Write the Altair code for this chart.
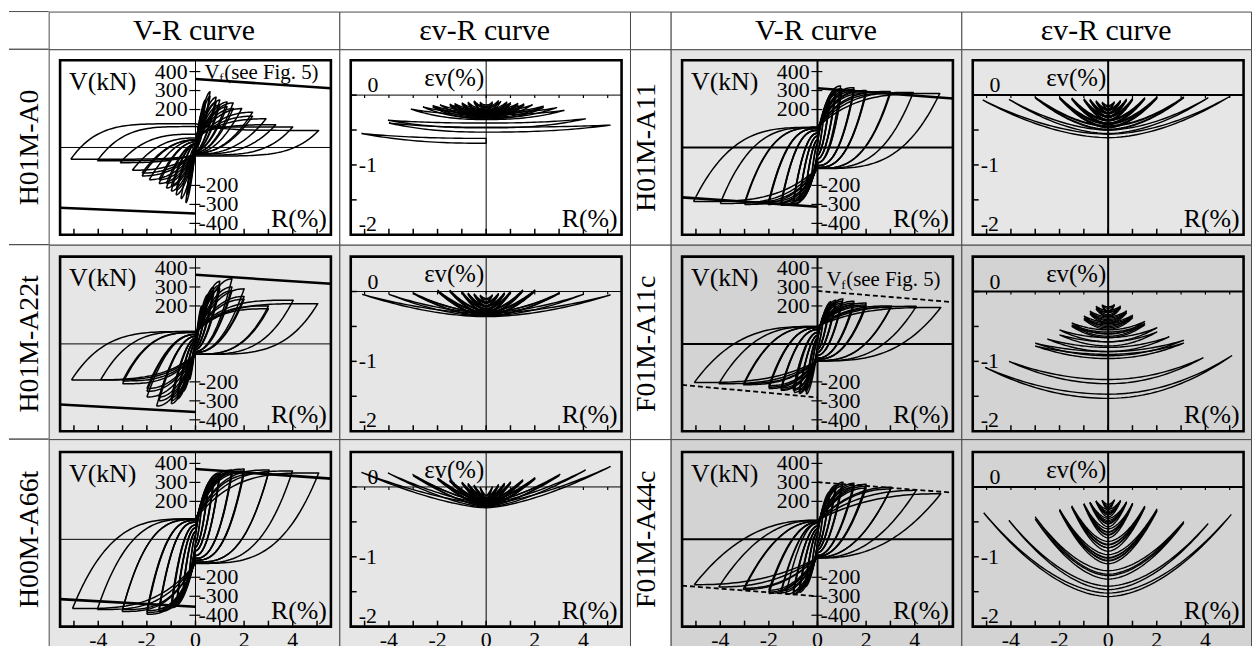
import altair as alt
import numpy as np
import pandas as pd

# ------------------------------------------------------------------ texts / ticks
HEADERS = ["", "V-R curve", "\u03b5v-R curve", "", "V-R curve", "\u03b5v-R curve"]
SPECIMENS = ["H01M-A0", "H01M-A11", "H01M-A22t", "F01M-A11c", "H00M-A66t", "F01M-A44c"]
R_TICK_LABELS = [-4, -2, 0, 2, 4]
R_TICK_MARKS = [-5, -4, -3, -2, -1, 0, 1, 2, 3, 4, 5]
V_LABELS_POS = [400, 300, 200]
V_LABELS_NEG = [-200, -300, -400]
EV_LABELS = [0, -1, -2]
EV_TICK_MARKS = [0, -0.5, -1, -1.5, -2]

# ------------------------------------------------------------------ V-R cycles
# RP/RN: drift amplitude (+/-), VP/VN: shear at the peaks, P/Q: shear where loading / unloading
# branch crosses R=0 (pinching), M: loop fullness
A0_RP = [0.25, 0.25, 0.4, 0.4, 0.6, 0.6, 0.85, 0.85, 1.0, 1.0, 1.3, 1.3, 1.55, 1.55, 1.9, 2.35, 2.35, 2.9, 3.3, 4.0, 5.07]
A0_RN = [0.25, 0.25, 0.35, 0.35, 0.4, 0.6, 0.8, 0.8, 1.0, 1.0, 1.2, 1.2, 1.5, 1.5, 1.9, 2.2, 2.2, 2.6, 3.1, 4.04, 5.13]
A0_VP = [180, 160, 250, 225, 294, 270, 265, 240, 250, 225, 240, 215, 235, 205, 205, 186, 165, 151, 120, 108, 90]
A0_VN = [-170, -150, -250, -225, -292, -270, -250, -225, -230, -205, -214, -190, -190, -170, -170, -150, -135, -120, -80, -70, -62]
A0_P = [0, 0, 10, 10, 10, 10, 20, 20, 20, 20, 20, 20, 30, 30, 40, 40, 40, 50, 70, 110, 125]
A0_Q = [0, 0, -10, -10, -10, -10, -20, -20, -20, -20, -20, -20, -25, -25, -30, -30, -30, -35, -35, -40, -45]
A0_M = [1.5, 1.5, 1.5, 1.5, 1.6, 1.6, 1.7, 1.7, 1.8, 1.8, 1.8, 1.8, 2.0, 2.0, 2.0, 2.2, 2.2, 2.5, 3.0, 4.0, 5.0]

A22_RP = [0.25, 0.25, 0.5, 0.5, 0.5, 0.75, 0.75, 0.75, 1.0, 1.0, 1.0, 1.5, 1.5, 1.5, 2.0, 2.0, 2.0, 3.0, 3.0, 4.02, 5.03]
A22_RN = [0.25, 0.25, 0.5, 0.5, 0.5, 0.75, 0.75, 0.75, 1.0, 1.0, 1.0, 1.6, 1.5, 1.5, 2.0, 2.0, 2.0, 3.0, 3.0, 3.9, 5.1]
A22_VP = [200, 180, 260, 240, 225, 300, 280, 265, 330, 310, 290, 343, 300, 280, 290, 250, 235, 200, 185, 230, 212]
A22_VN = [-190, -170, -250, -240, -225, -290, -280, -265, -315, -300, -285, -328, -300, -280, -280, -250, -235, -210, -195, -190, -190]
A22_P = [0, 0, 10, 10, 10, 20, 20, 20, 30, 30, 30, 40, 40, 40, 50, 50, 50, 60, 60, 65, 65]
A22_Q = [0, 0, -10, -10, -10, -20, -20, -20, -30, -30, -30, -40, -40, -40, -45, -45, -45, -55, -55, -55, -55]
A22_M = [1.5, 1.5, 1.6, 1.6, 1.6, 1.7, 1.7, 1.7, 1.8, 1.8, 1.8, 2.0, 2.0, 2.0, 2.2, 2.2, 2.2, 3.0, 3.0, 3.5, 4.0]

A66_RP = [0.25, 0.25, 0.5, 0.5, 0.5, 0.75, 0.75, 0.75, 1.0, 1.0, 1.0, 1.5, 1.5, 1.5, 2.0, 2.0, 2.0, 3.03, 3.0, 3.99, 5.07]
A66_RN = [0.25, 0.25, 0.5, 0.5, 0.5, 0.75, 0.75, 0.75, 0.98, 1.0, 1.0, 1.5, 1.5, 1.5, 2.0, 2.0, 2.0, 3.02, 3.0, 4.04, 5.06]
A66_VP = [180, 165, 260, 250, 240, 320, 310, 300, 350, 345, 335, 365, 355, 345, 370, 360, 350, 365, 350, 360, 350]
A66_VN = [-180, -165, -260, -250, -240, -320, -310, -300, -360, -355, -345, -380, -375, -365, -395, -385, -375, -380, -370, -370, -365]
A66_P = [20, 20, 40, 40, 40, 60, 60, 60, 75, 75, 75, 90, 90, 90, 100, 100, 100, 105, 105, 108, 108]
A66_Q = [-20, -20, -40, -40, -40, -60, -60, -60, -85, -85, -85, -100, -100, -100, -110, -110, -110, -120, -120, -125, -127]
A66_M = [1.6, 1.6, 1.8, 1.8, 1.8, 2.0, 2.0, 2.0, 2.2, 2.2, 2.2, 2.5, 2.5, 2.5, 2.7, 2.7, 2.7, 3.0, 3.0, 3.2, 3.4]

A11_RP = [0.25, 0.25, 0.5, 0.5, 0.5, 0.75, 0.75, 0.75, 0.95, 1.0, 1.0, 1.5, 1.5, 1.5, 2.0, 2.0, 2.0, 2.99, 3.0, 3.94, 5.03]
A11_RN = [0.25, 0.25, 0.5, 0.5, 0.5, 0.75, 0.75, 0.75, 1.0, 1.0, 1.0, 1.5, 1.5, 1.5, 2.04, 2.0, 2.0, 3.0, 3.0, 4.0, 5.1]
A11_VP = [170, 155, 250, 240, 230, 300, 290, 280, 324, 310, 300, 315, 305, 295, 300, 295, 285, 295, 285, 290, 285]
A11_VN = [-170, -155, -240, -235, -225, -280, -275, -265, -300, -295, -285, -305, -300, -290, -300, -295, -285, -300, -290, -295, -285]
A11_P = [20, 20, 40, 40, 40, 60, 60, 60, 75, 75, 75, 90, 90, 90, 100, 100, 100, 105, 105, 106, 106]
A11_Q = [-20, -20, -40, -40, -40, -60, -60, -60, -80, -80, -80, -95, -95, -95, -105, -105, -105, -110, -110, -110, -111]
A11_M = [1.6, 1.6, 1.8, 1.8, 1.8, 2.0, 2.0, 2.0, 2.2, 2.2, 2.2, 2.5, 2.5, 2.5, 2.7, 2.7, 2.7, 3.0, 3.0, 3.2, 3.4]

A11C_RP = [0.25, 0.25, 0.55, 0.5, 0.5, 0.75, 0.75, 0.75, 1.05, 1.0, 1.0, 1.5, 1.5, 1.5, 2.0, 2.0, 2.0, 3.05, 3.0, 4.06, 5.07]
A11C_RN = [0.25, 0.25, 0.46, 0.5, 0.5, 0.75, 0.75, 0.75, 0.96, 1.0, 1.0, 1.5, 1.5, 1.5, 2.0, 2.0, 2.0, 3.06, 3.0, 4.06, 5.07]
A11C_VP = [150, 135, 223, 210, 200, 230, 220, 210, 237, 225, 215, 225, 215, 205, 215, 205, 198, 200, 192, 198, 192]
A11C_VN = [-150, -135, -265, -250, -240, -262, -255, -245, -256, -245, -238, -245, -240, -232, -235, -228, -220, -215, -208, -210, -204]
A11C_P = [15, 15, 30, 30, 30, 45, 45, 45, 60, 60, 60, 75, 75, 75, 85, 85, 85, 90, 90, 92, 92]
A11C_Q = [-15, -15, -30, -30, -30, -45, -45, -45, -60, -60, -60, -75, -75, -75, -80, -80, -80, -88, -88, -90, -90]
A11C_M = [1.6, 1.6, 1.7, 1.7, 1.7, 1.8, 1.8, 1.8, 2.0, 2.0, 2.0, 2.2, 2.2, 2.2, 2.4, 2.4, 2.4, 2.7, 2.7, 2.9, 3.0]

A44C_RP = [0.25, 0.25, 0.5, 0.5, 0.5, 0.75, 0.75, 0.75, 1.05, 1.0, 1.0, 1.5, 1.5, 1.5, 2.0, 2.0, 2.0, 3.05, 3.0, 4.06, 5.07]
A44C_RN = [0.25, 0.25, 0.5, 0.5, 0.5, 0.75, 0.75, 0.75, 1.0, 1.0, 1.0, 1.3, 1.5, 1.5, 2.0, 2.0, 2.0, 3.06, 3.0, 4.06, 5.07]
A44C_VP = [170, 155, 250, 240, 230, 285, 275, 265, 301, 290, 280, 295, 285, 275, 290, 280, 270, 275, 265, 258, 240]
A44C_VN = [-170, -155, -250, -240, -230, -280, -270, -260, -291, -285, -275, -290, -282, -272, -285, -278, -268, -265, -258, -251, -239]
A44C_P = [20, 20, 40, 40, 40, 55, 55, 55, 70, 70, 70, 85, 85, 85, 90, 90, 90, 95, 95, 100, 101]
A44C_Q = [-20, -20, -40, -40, -40, -55, -55, -55, -70, -70, -70, -85, -85, -85, -90, -90, -90, -95, -95, -98, -99]
A44C_M = [1.6, 1.6, 1.7, 1.7, 1.7, 1.8, 1.8, 1.8, 1.9, 1.9, 1.9, 2.0, 2.0, 2.0, 2.1, 2.1, 2.1, 2.2, 2.2, 2.3, 2.4]

# Vf lines: [upper at R=0, upper at right edge, lower at left edge, lower at R=0]
VF_A0 = [361, 312, -318, -348]
VF_A11 = [312, 258, -263, -312]
VF_A22 = [364, 317, -319, -359]
VF_A11C = [279, 220, -216, -282]
VF_A66 = [371, 320, -315, -355]
VF_A44C = [301, 246, -244, -300]

# ------------------------------------------------------------------ εv-R cycles
# RN/RP: drift amplitude, EL/ER: εv at the negative / positive peak, E0: εv at R=0
A0E_RN = [0.25, 0.25, 0.5, 0.5, 0.5, 0.75, 0.75, 1.0, 1.0, 1.3, 1.3, 1.5, 1.5, 1.9, 2.2, 2.2, 2.6, 3.1, 4.04, 4.0, 5.13]
A0E_RP = [0.25, 0.25, 0.5, 0.5, 0.6, 0.85, 0.85, 1.0, 1.0, 1.3, 1.3, 1.55, 1.55, 1.9, 2.35, 2.35, 2.9, 3.2, 4.08, 5.1, 0.0]
A0E_EL = [-0.10, -0.12, -0.08, -0.10, -0.09, -0.10, -0.12, -0.11, -0.13, -0.12, -0.14, -0.13, -0.15, -0.14, -0.15, -0.17, -0.17, -0.20, -0.36, -0.40, -0.55]
A0E_ER = [-0.10, -0.12, -0.08, -0.10, -0.09, -0.10, -0.12, -0.11, -0.13, -0.12, -0.14, -0.13, -0.15, -0.14, -0.16, -0.18, -0.18, -0.22, -0.34, -0.43, -0.62]
A0E_E0 = [-0.14, -0.16, -0.16, -0.18, -0.18, -0.20, -0.22, -0.21, -0.23, -0.22, -0.24, -0.23, -0.25, -0.24, -0.25, -0.27, -0.26, -0.28, -0.40, -0.46, -0.62]

A11E_RN = [0.25, 0.25, 0.5, 0.5, 0.5, 0.75, 0.75, 0.75, 1.0, 1.0, 1.0, 1.5, 1.5, 1.5, 2.0, 2.0, 2.0, 3.0, 3.0, 4.08, 5.16]
A11E_RP = [0.25, 0.25, 0.5, 0.5, 0.5, 0.75, 0.75, 0.75, 1.0, 1.0, 1.0, 1.5, 1.5, 1.5, 2.0, 2.0, 2.0, 3.1, 3.1, 4.1, 5.0]
A11E_EL = [-0.10, -0.11, -0.08, -0.09, -0.10, -0.06, -0.07, -0.08, -0.05, -0.06, -0.07, -0.04, -0.05, -0.06, -0.03, -0.04, -0.05, -0.03, -0.04, -0.06, -0.07]
A11E_ER = [-0.10, -0.11, -0.08, -0.09, -0.10, -0.06, -0.07, -0.08, -0.05, -0.06, -0.07, -0.04, -0.05, -0.06, -0.03, -0.04, -0.05, -0.03, -0.04, -0.04, -0.02]
A11E_E0 = [-0.15, -0.17, -0.20, -0.21, -0.22, -0.25, -0.26, -0.27, -0.30, -0.31, -0.32, -0.35, -0.36, -0.37, -0.40, -0.41, -0.42, -0.44, -0.45, -0.50, -0.56]

A22E_RN = [0.25, 0.25, 0.5, 0.5, 0.5, 0.75, 0.75, 0.75, 1.0, 1.0, 1.0, 1.5, 1.5, 1.5, 2.0, 2.0, 2.0, 3.0, 3.0, 4.0, 5.1]
A22E_RP = [0.25, 0.25, 0.5, 0.5, 0.5, 0.75, 0.75, 0.75, 1.0, 1.0, 1.0, 1.5, 1.5, 1.5, 2.0, 2.0, 2.0, 3.0, 3.0, 4.0, 5.1]
A22E_EL = [-0.05, -0.06, -0.03, -0.04, -0.05, -0.02, -0.03, -0.04, 0.0, -0.01, -0.02, 0.02, 0.01, 0.0, 0.02, 0.01, 0.0, -0.02, -0.03, -0.04, -0.04]
A22E_ER = [-0.05, -0.06, -0.03, -0.04, -0.05, -0.02, -0.03, -0.04, 0.0, -0.01, -0.02, 0.02, 0.01, 0.0, 0.02, 0.01, 0.0, -0.02, -0.03, -0.04, -0.05]
A22E_E0 = [-0.10, -0.12, -0.15, -0.16, -0.17, -0.20, -0.21, -0.22, -0.24, -0.25, -0.25, -0.27, -0.28, -0.28, -0.29, -0.30, -0.30, -0.30, -0.30, -0.30, -0.31]

A11CE_RN = [0.25, 0.25, 0.5, 0.5, 0.5, 0.75, 0.75, 0.75, 1.0, 1.0, 1.0, 1.5, 1.5, 1.5, 2.0, 2.0, 2.5, 3.0, 3.0, 4.08, 5.05]
A11CE_RP = [0.25, 0.25, 0.5, 0.5, 0.5, 0.75, 0.75, 0.75, 1.0, 1.0, 1.0, 1.5, 1.5, 1.5, 2.0, 2.0, 2.5, 3.1, 3.1, 3.9, 5.08]
A11CE_EL = [-0.19, -0.20, -0.21, -0.23, -0.25, -0.28, -0.30, -0.32, -0.35, -0.38, -0.40, -0.45, -0.48, -0.50, -0.55, -0.62, -0.68, -0.74, -0.78, -1.00, -1.09]
A11CE_ER = [-0.19, -0.20, -0.21, -0.22, -0.24, -0.28, -0.29, -0.31, -0.34, -0.36, -0.38, -0.43, -0.46, -0.48, -0.52, -0.58, -0.65, -0.70, -0.74, -0.95, -0.92]
A11CE_E0 = [-0.22, -0.24, -0.27, -0.29, -0.30, -0.36, -0.38, -0.40, -0.44, -0.46, -0.48, -0.55, -0.58, -0.60, -0.66, -0.72, -0.80, -0.86, -0.90, -1.26, -1.47]

A66E_RN = [0.25, 0.25, 0.5, 0.5, 0.5, 0.75, 0.75, 0.75, 1.0, 1.0, 1.0, 1.5, 1.5, 1.5, 2.0, 2.0, 2.0, 3.03, 3.0, 4.04, 5.13]
A66E_RP = [0.25, 0.25, 0.5, 0.5, 0.5, 0.75, 0.75, 0.75, 1.0, 1.0, 1.0, 1.5, 1.5, 1.5, 2.0, 2.0, 2.0, 3.03, 3.0, 4.08, 5.10]
A66E_EL = [0.0, -0.01, 0.03, 0.02, 0.01, 0.05, 0.04, 0.03, 0.07, 0.06, 0.05, 0.10, 0.09, 0.08, 0.13, 0.12, 0.11, 0.18, 0.16, 0.20, 0.21]
A66E_ER = [0.0, -0.01, 0.03, 0.02, 0.01, 0.05, 0.04, 0.03, 0.07, 0.06, 0.05, 0.10, 0.09, 0.08, 0.13, 0.12, 0.11, 0.18, 0.16, 0.24, 0.29]
A66E_E0 = [-0.12, -0.13, -0.15, -0.16, -0.16, -0.17, -0.18, -0.18, -0.19, -0.20, -0.20, -0.20, -0.21, -0.21, -0.21, -0.22, -0.22, -0.22, -0.22, -0.23, -0.24]

A44CE_RN = [0.25, 0.25, 0.5, 0.5, 0.5, 0.75, 0.75, 0.75, 1.0, 1.0, 1.0, 1.5, 1.5, 1.5, 2.0, 2.0, 2.0, 3.0, 3.0, 4.08, 5.12]
A44CE_RP = [0.25, 0.25, 0.5, 0.5, 0.5, 0.75, 0.75, 0.75, 1.0, 1.0, 1.0, 1.5, 1.5, 1.5, 2.0, 2.0, 2.0, 3.1, 3.1, 4.1, 5.05]
A44CE_EL = [-0.19, -0.19, -0.20, -0.20, -0.21, -0.22, -0.22, -0.23, -0.24, -0.24, -0.25, -0.27, -0.28, -0.29, -0.32, -0.33, -0.34, -0.43, -0.46, -0.48, -0.37]
A44CE_ER = [-0.19, -0.19, -0.20, -0.20, -0.21, -0.22, -0.22, -0.23, -0.24, -0.24, -0.25, -0.28, -0.29, -0.30, -0.32, -0.34, -0.35, -0.50, -0.52, -0.53, -0.40]
A44CE_E0 = [-0.25, -0.28, -0.32, -0.35, -0.38, -0.45, -0.48, -0.52, -0.60, -0.64, -0.68, -0.78, -0.82, -0.87, -0.97, -1.01, -1.05, -1.20, -1.27, -1.42, -1.52]

# curvature of the εv arcs and thickness of their lenses, per specimen
EV_SHAPE = [2.4, 1.8, 1.8, 2.0, 1.5, 1.8]
EV_LENS = [0.07, 0.05, 0.05, 0.06, 0.06, 0.05]

# ------------------------------------------------------------------ tables for the library
def vr_table(RP, RN, VP, VN, P, Q, M, n=40):
    t = np.linspace(0.0, 1.0, n)
    parts = []
    for c in range(len(RP)):
        rp, rn, vp, vn, p, q, m = RP[c], RN[c], VP[c], VN[c], P[c], Q[c], M[c]
        R = np.concatenate([-rn * (1 - t), rp * t[1:], rp * (1 - t[1:]), -rn * t[1:]])
        V = np.concatenate([
            vn + (p - vn) * (1 - (1 - t) ** m),
            p + (vp - p) * (1 - (1 - t[1:]) ** m),
            vp - (vp - q) * (1 - (1 - t[1:]) ** m),
            q + (vn - q) * (1 - (1 - t[1:]) ** m),
        ])
        parts.append(pd.DataFrame({"c": c, "i": np.arange(len(R)), "x": R.round(3), "y": V.round(1)}))
    return pd.concat(parts, ignore_index=True)


def ev_table(RN, RP, EL, ER, E0, k, w, n=30):
    t = np.linspace(0.0, 1.0, n)
    parts = []
    for c in range(len(RN)):
        rn, rp, el, er, e0 = RN[c], RP[c], EL[c], ER[c], E0[c]
        Rs = [-rn * (1 - t)]
        Es = [e0 + (el - e0) * (1 - t) ** k]
        if rp > 0:
            Rs += [rp * t[1:], rp * (1 - t[1:])]
            Es += [e0 + (er - e0) * t[1:] ** k, (e0 - w) + (er - e0 + w) * (1 - t[1:]) ** k]
        else:
            Rs += [np.zeros(1)]
            Es += [np.array([e0 - w])]
        Rs += [-rn * t[1:]]
        Es += [(e0 - w) + (el - e0 + w) * t[1:] ** k]
        R = np.concatenate(Rs)
        E = np.concatenate(Es)
        parts.append(pd.DataFrame({"c": c, "i": np.arange(len(R)), "x": R.round(3), "y": E.round(4)}))
    return pd.concat(parts, ignore_index=True)


VR_DATA = [
    vr_table(A0_RP, A0_RN, A0_VP, A0_VN, A0_P, A0_Q, A0_M),
    vr_table(A11_RP, A11_RN, A11_VP, A11_VN, A11_P, A11_Q, A11_M),
    vr_table(A22_RP, A22_RN, A22_VP, A22_VN, A22_P, A22_Q, A22_M),
    vr_table(A11C_RP, A11C_RN, A11C_VP, A11C_VN, A11C_P, A11C_Q, A11C_M),
    vr_table(A66_RP, A66_RN, A66_VP, A66_VN, A66_P, A66_Q, A66_M),
    vr_table(A44C_RP, A44C_RN, A44C_VP, A44C_VN, A44C_P, A44C_Q, A44C_M),
]
EV_DATA = [
    ev_table(A0E_RN, A0E_RP, A0E_EL, A0E_ER, A0E_E0, EV_SHAPE[0], EV_LENS[0]),
    ev_table(A11E_RN, A11E_RP, A11E_EL, A11E_ER, A11E_E0, EV_SHAPE[1], EV_LENS[1]),
    ev_table(A22E_RN, A22E_RP, A22E_EL, A22E_ER, A22E_E0, EV_SHAPE[2], EV_LENS[2]),
    ev_table(A11CE_RN, A11CE_RP, A11CE_EL, A11CE_ER, A11CE_E0, EV_SHAPE[3], EV_LENS[3]),
    ev_table(A66E_RN, A66E_RP, A66E_EL, A66E_ER, A66E_E0, EV_SHAPE[4], EV_LENS[4]),
    ev_table(A44CE_RN, A44CE_RP, A44CE_EL, A44CE_ER, A44CE_E0, EV_SHAPE[5], EV_LENS[5]),
]
VF = [VF_A0, VF_A11, VF_A22, VF_A11C, VF_A66, VF_A44C]
VF_DASHED = [False, False, False, True, False, True]
VF_NOTE = [True, False, False, True, False, False]

# ------------------------------------------------------------------ layout / style
FONT = "'Liberation Serif', 'Times New Roman', Times, 'DejaVu Serif', serif"
GRID = "#4a4a4a"
BG = ["#ffffff", "#e6e6e6", "#e6e6e6", "#d3d3d3", "#e6e6e6", "#d3d3d3"]
ZERO_W = [1, 2, 1, 2, 1, 2]
NOTE_DY = [19, 19, 19, 30, 19, 19]
COL_W = [40, 293, 293, 41, 293, 292]
ROW_H = [38, 197, 196, 210]
FRAME_TOP = [11, 12, 13]
FRAME_H = 176
FX0, FX1 = 11.5, 284.5
XMIN, XMAX = -5.57, 5.57
VMIN, VMAX = -460, 460
EMIN, EMAX = -2.0, 0.5
TICK_PX = 6
LOOP_W = {"vr": 1.5, "ev": 1.4}


def txt(df, X, Y, **kw):
    return alt.Chart(df).mark_text(font=FONT, color="black", **kw).encode(x=X, y=Y, text="t:N")


def rules(df, X, Y, **kw):
    return alt.Chart(df).mark_rule(color="black", **kw).encode(x=X, x2=alt.X2("x2"), y=Y, y2=alt.Y2("y2"))


def panel(k, kind, W, H, ftop, bottom):
    xs = alt.Scale(domain=[XMIN, XMAX], range=[FX0, FX1], nice=False, zero=False)
    if kind == "vr":
        lo, hi = VMIN, VMAX
    else:
        lo, hi = EMIN, EMAX
    ys = alt.Scale(domain=[lo, hi], range=[ftop + FRAME_H, ftop], nice=False, zero=False)
    X = alt.X("x:Q", scale=xs, axis=None)
    Y = alt.Y("y:Q", scale=ys, axis=None)
    per_px_y = (hi - lo) / FRAME_H
    per_px_x = (XMAX - XMIN) / (FX1 - FX0)
    L = []
    zl = pd.DataFrame({"x": [XMIN, 0], "x2": [XMAX, 0], "y": [0, lo], "y2": [0, hi]})
    L.append(rules(zl, X, Y, strokeWidth=ZERO_W[k]))
    data = VR_DATA[k] if kind == "vr" else EV_DATA[k]
    L.append(alt.Chart(data).mark_line(color="black", strokeWidth=LOOP_W[kind], strokeJoin="round").encode(
        x=X, y=Y, detail="c:N", order="i:Q"))
    bt = pd.DataFrame({"x": R_TICK_MARKS, "x2": R_TICK_MARKS,
                       "y": [lo] * len(R_TICK_MARKS), "y2": [lo + TICK_PX * per_px_y] * len(R_TICK_MARKS)})
    L.append(rules(bt, X, Y, strokeWidth=1.5))
    if kind == "vr":
        vf = VF[k]
        vdf = pd.DataFrame({"x": [0, XMIN], "x2": [XMAX, 0], "y": [vf[0], vf[2]], "y2": [vf[1], vf[3]]})
        if VF_DASHED[k]:
            L.append(rules(vdf, X, Y, strokeWidth=1.8, strokeDash=[5, 3]))
        else:
            L.append(rules(vdf, X, Y, strokeWidth=2.6))
        vt = V_LABELS_POS + V_LABELS_NEG
        tdf = pd.DataFrame({"x": [-0.25] * len(vt), "x2": [0.2] * len(vt), "y": vt, "y2": vt})
        L.append(rules(tdf, X, Y, strokeWidth=1.2))
        L.append(txt(pd.DataFrame({"x": [0] * 3, "y": V_LABELS_POS, "t": [str(v) for v in V_LABELS_POS]}),
                     X, Y, fontSize=22, align="right", baseline="middle", dx=-8))
        L.append(txt(pd.DataFrame({"x": [0] * 3, "y": V_LABELS_NEG, "t": [str(v) for v in V_LABELS_NEG]}),
                     X, Y, fontSize=22, align="left", baseline="middle", dx=3))
        L.append(txt(pd.DataFrame({"x": [XMIN], "y": [VMAX], "t": ["V(kN)"]}),
                     X, Y, fontSize=26, align="left", baseline="alphabetic", dx=9, dy=30))
        if VF_NOTE[k]:
            dy = NOTE_DY[k]
            L.append(txt(pd.DataFrame({"x": [0], "y": [VMAX], "t": ["V"]}),
                         X, Y, fontSize=21, align="left", baseline="alphabetic", dx=9, dy=dy))
            L.append(txt(pd.DataFrame({"x": [0], "y": [VMAX], "t": ["f"]}),
                         X, Y, fontSize=13, align="left", baseline="alphabetic", dx=24, dy=dy + 3))
            L.append(txt(pd.DataFrame({"x": [0], "y": [VMAX], "t": ["(see Fig. 5)"]}),
                         X, Y, fontSize=21, align="left", baseline="alphabetic", dx=29, dy=dy))
    else:
        lt = pd.DataFrame({"x": [XMIN] * len(EV_TICK_MARKS), "x2": [XMIN + TICK_PX * per_px_x] * len(EV_TICK_MARKS),
                           "y": EV_TICK_MARKS, "y2": EV_TICK_MARKS})
        L.append(rules(lt, X, Y, strokeWidth=1.5))
        zt = pd.DataFrame({"x": R_TICK_MARKS, "x2": R_TICK_MARKS,
                           "y": [0] * len(R_TICK_MARKS), "y2": [-3 * per_px_y] * len(R_TICK_MARKS)})
        L.append(rules(zt, X, Y, strokeWidth=1.2))
        L.append(txt(pd.DataFrame({"x": [XMIN], "y": [EV_LABELS[0]], "t": [str(EV_LABELS[0])]}),
                     X, Y, fontSize=22, align="left", baseline="alphabetic", dx=17, dy=-3))
        L.append(txt(pd.DataFrame({"x": [XMIN], "y": [EV_LABELS[1]], "t": [str(EV_LABELS[1])]}),
                     X, Y, fontSize=22, align="left", baseline="middle", dx=8))
        L.append(txt(pd.DataFrame({"x": [XMIN], "y": [EV_LABELS[2]], "t": [str(EV_LABELS[2])]}),
                     X, Y, fontSize=22, align="left", baseline="alphabetic", dx=8, dy=-4))
        L.append(txt(pd.DataFrame({"x": [0], "y": [EMAX], "t": ["\u03b5v(%)"]}),
                     X, Y, fontSize=25, align="right", baseline="alphabetic", dx=-2, dy=26))
    L.append(txt(pd.DataFrame({"x": [XMAX], "y": [lo], "t": ["R(%)"]}),
                 X, Y, fontSize=26, align="right", baseline="alphabetic", dx=-4, dy=-8))
    if bottom:
        L.append(txt(pd.DataFrame({"x": R_TICK_LABELS, "y": [lo] * len(R_TICK_LABELS),
                                   "t": [str(v) for v in R_TICK_LABELS]}),
                     X, Y, fontSize=22, align="center", baseline="top", dy=4))
    fr = pd.DataFrame({"x": [XMIN], "x2": [XMAX], "y": [lo], "y2": [hi]})
    L.append(alt.Chart(fr).mark_rect(fillOpacity=0, stroke="black", strokeWidth=2.6).encode(
        x=X, x2=alt.X2("x2"), y=Y, y2=alt.Y2("y2")))
    return alt.layer(*L).properties(
        width=W, height=H, view=alt.ViewBackground(fill=BG[k], stroke=GRID, strokeWidth=1))


def edge_rules(W, H):
    d = pd.DataFrame({"a": [0]})
    top = alt.Chart(d).mark_rule(color=GRID, strokeWidth=1).encode(
        x=alt.value(0), x2=alt.value(W), y=alt.value(0))
    bot = alt.Chart(d).mark_rule(color=GRID, strokeWidth=1).encode(
        x=alt.value(0), x2=alt.value(W), y=alt.value(H))
    return [top, bot]


def header_cell(c, W, H):
    L = []
    if c == 0:
        L += edge_rules(W, H)
    if HEADERS[c]:
        L.append(alt.Chart(pd.DataFrame({"t": [HEADERS[c]]})).mark_text(
            font=FONT, fontSize=30, align="center", baseline="alphabetic", color="black").encode(
            text="t:N", x=alt.value(W / 2), y=alt.value(28.5)))
    if not L:
        L.append(alt.Chart(pd.DataFrame({"t": [""]})).mark_text().encode(
            text="t:N", x=alt.value(W / 2), y=alt.value(H / 2)))
    stroke = "transparent" if c == 0 else GRID
    return alt.layer(*L).properties(width=W, height=H,
                                    view=alt.ViewBackground(fill="#ffffff", stroke=stroke, strokeWidth=1))


def label_cell(name, c, W, H, ftop):
    L = []
    if c == 0:
        L += edge_rules(W, H)
    cx = 21 if c == 0 else 17
    L.append(alt.Chart(pd.DataFrame({"t": [name]})).mark_text(
        font=FONT, fontSize=28, angle=270, align="center", baseline="middle", color="black").encode(
        text="t:N", x=alt.value(cx), y=alt.value(ftop + FRAME_H / 2)))
    stroke = "transparent" if c == 0 else GRID
    return alt.layer(*L).properties(width=W, height=H,
                                    view=alt.ViewBackground(fill="#ffffff", stroke=stroke, strokeWidth=1))


cells = [header_cell(c, COL_W[c], ROW_H[0]) for c in range(6)]
for r in range(3):
    H = ROW_H[r + 1]
    ftop = FRAME_TOP[r]
    bottom = r == 2
    for side in range(2):
        k = 2 * r + side
        c0 = 3 * side
        cells.append(label_cell(SPECIMENS[k], c0, COL_W[c0], H, ftop))
        cells.append(panel(k, "vr", COL_W[c0 + 1], H, ftop, bottom))
        cells.append(panel(k, "ev", COL_W[c0 + 2], H, ftop, bottom))

chart = alt.concat(*cells, columns=6, spacing=0, bounds="flush", padding=0)
chart.save("out.html", embed_options={"renderer": "svg", "actions": False})
